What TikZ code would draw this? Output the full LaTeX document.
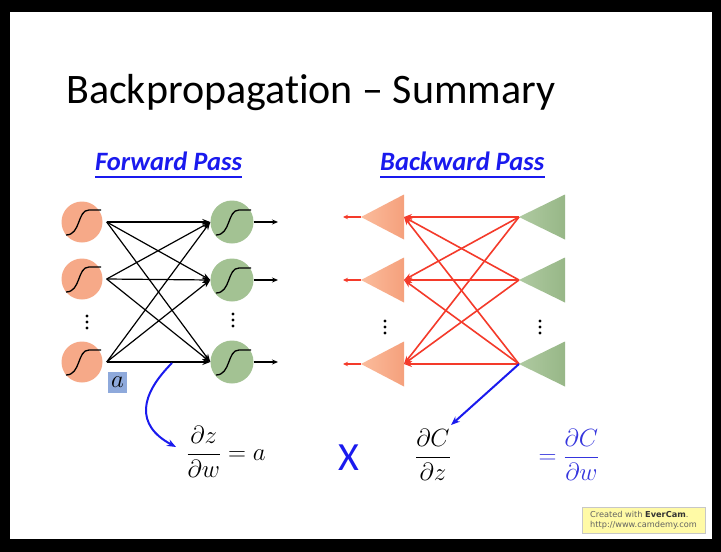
\documentclass[tikz,border=0pt]{standalone}
\usepackage{amsmath}
\usepackage{fontspec}
\setmainfont{Carlito}[Ligatures=NoCommon]
\newfontfamily\djv{DejaVu Sans}
\usetikzlibrary{arrows.meta,calc}
\definecolor{fOrange}{HTML}{F6A988}
\definecolor{fGreen}{HTML}{A3C293}
\definecolor{tOrangeL}{HTML}{FBBC9C}
\definecolor{tOrangeR}{HTML}{F5A07C}
\definecolor{tGreenL}{HTML}{AFCAA1}
\definecolor{tGreenR}{HTML}{97B787}
\definecolor{bRed}{HTML}{F43A2A}
\definecolor{bBlue}{HTML}{1A1AEE}
\definecolor{lBlue}{HTML}{3535DD}
\definecolor{aBox}{HTML}{8EA9DB}
\tikzset{sigm/.pic={\draw[line width=1.3pt] (-16,13) .. controls (-1,13) and (-5,-12) .. (7,-12) -- (19,-12);},
  dots3/.pic={\foreach \d in {-6,0,6} \fill (0,\d) circle (1.6pt);}}
\begin{document}
\begin{tikzpicture}[x=1pt,y=-1pt,
  fcirc/.style={circle,inner sep=0pt,minimum size=41pt,fill=fOrange},
  gcirc/.style={circle,inner sep=0pt,minimum size=43pt,fill=fGreen},
  fwd/.style={line width=1.2pt,-{Stealth[length=8pt,width=6pt]}},
  bwd/.style={line width=1.6pt,bRed,-{Stealth[length=8pt,width=6pt]}},
  passtitle/.style={font=\fontsize{26.5}{30}\selectfont\bfseries\itshape,text=bBlue,inner sep=0pt},
  eq/.style={font=\fontsize{25}{30}\selectfont,inner sep=0pt}]
\fill[black] (0,0) rectangle (721,552);
\fill[white] (10,12) rectangle (712,539);
\useasboundingbox (0,0) rectangle (721,552);

% title
\node[anchor=base west,inner sep=0pt,font=\fontsize{42}{48}\selectfont] (title) at (66,103) {Backpropagation -- Summary};

% pass titles
\node[passtitle,anchor=base west] (fp) at (95,170) {Forward Pass};
\node[passtitle,anchor=base west] (bp) at (380,170) {Backward Pass};
\draw[bBlue,line width=1.1pt] ([yshift=-7pt]fp.base west) -- ([yshift=-7pt]fp.base east);
\draw[bBlue,line width=1.1pt] ([yshift=-7pt]bp.base west) -- ([yshift=-7pt]bp.base east);

% forward nodes
\node[fcirc] (f1) at (82,222) {};
\node[fcirc] (f2) at (82,279) {};
\node[fcirc] (f3) at (82,362) {};
\node[gcirc] (g1) at (232,222) {};
\node[gcirc] (g2) at (232,280) {};
\node[gcirc] (g3) at (232,362) {};
\foreach \n in {f1,f2,f3,g1,g2,g3} \pic at (\n) {sigm};
\pic at (87,322) {dots3};
\pic at (233,320) {dots3};
\foreach \i in {f1,f2,f3} \foreach \j in {g1,g2,g3}
  \draw[fwd] ([xshift=4pt]\i.east) -- (\j.west);
\coordinate (o1) at (278,222);
\coordinate (o2) at (278,280);
\coordinate (o3) at (278,362);
\foreach \j in {1,2,3} \draw[line width=1.1pt,-{Stealth[length=6pt,width=5pt]}] (g\j.east) -- (o\j);

% a box
\node[fill=aBox,minimum width=19pt,minimum height=21pt,inner sep=0pt] (abox) at (117.5,382.5) {\fontsize{26}{26}\selectfont$a$};

% backward triangles
\foreach \k/\y in {1/217,2/280,3/364}{
  \shade[left color=tOrangeL,right color=tOrangeR] (361,\y) -- (404,\y-22.5) -- (404,\y+22.5) -- cycle;
  \shade[left color=tGreenL,right color=tGreenR] (519,\y) -- (565,\y-22.5) -- (565,\y+22.5) -- cycle;
  \coordinate (ob\k) at (404,\y);
  \coordinate (ot\k) at (361,\y);
  \coordinate (gt\k) at (519,\y);
  \coordinate (bo\k) at (343,\y);
}
\pic at (385,327) {dots3};
\pic at (540,327) {dots3};
\foreach \i in {1,2,3} \foreach \j in {1,2,3}
  \draw[bwd] (gt\j) -- (ob\i);
\foreach \k in {1,2,3} \draw[bwd,line width=1.2pt,-{Stealth[length=5pt,width=4.5pt]}] (ot\k) -- (bo\k);

% equations
\node[eq] (eq1) at (226,452) {$\dfrac{\partial z}{\partial w} = a$};
\node[eq,font=\fontsize{40}{40}\selectfont,text=bBlue] (xx) at (349,458) {X};
\node[eq] (eq2) at (433,455) {$\dfrac{\partial C}{\partial z}$};
\node[eq,text=lBlue] (eq3) at (569,455) {$= \dfrac{\partial C}{\partial w}$};

% blue connectors
\coordinate (cs) at (172,363);
\coordinate (ce) at (176,447);
\draw[bBlue,line width=2pt,-{Stealth[length=9pt,width=7pt]}] (cs) .. controls (140,395) and (135,425) .. (ce);
\coordinate (be) at (451,425);
\draw[bBlue,line width=2pt,-{Stealth[length=9pt,width=7pt]}] (gt3) -- (be);

% evercam box
\node[draw=black!22,fill=yellow!35,line width=0.8pt,minimum width=123pt,minimum height=26pt,inner sep=0pt,align=left,font=\djv\fontsize{8.2}{10.5}\selectfont,text=black!62] (ec) at (643.5,520) {Created with \textbf{\color{black!80}EverCam}.\\http://www.camdemy.com};
\end{tikzpicture}
\end{document}
